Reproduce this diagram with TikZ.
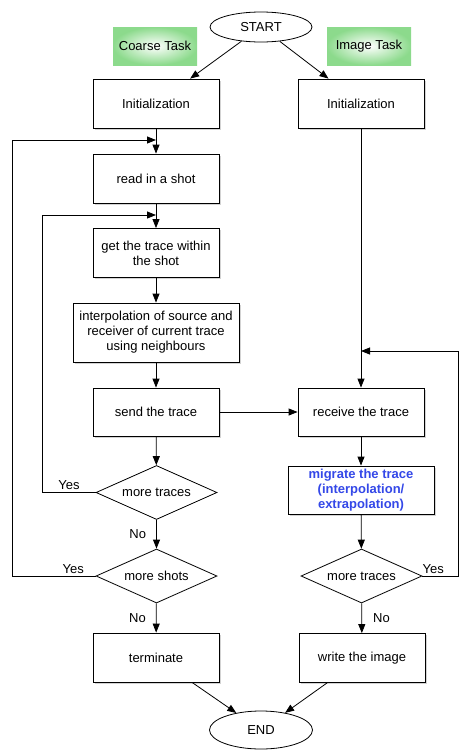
\documentclass[tikz,border=0pt]{standalone}
\usepackage{fontspec}
\setmainfont{Liberation Sans}
\usepackage{xcolor}
\usetikzlibrary{
    arrows.meta,
    shapes,
    shadows,
    calc,
    positioning
}
\definecolor{taskgreen}{RGB}{140,218,140}
\definecolor{migblue}{RGB}{52,72,232}
\tikzset{
    every node/.style={font=\fontsize{13}{15}\selectfont},
    process/.style={draw, thick, rectangle, fill=white, align=center,
        minimum width=126pt, minimum height=49pt, inner sep=2pt,
        drop shadow={opacity=0.35, shadow xshift=1.5pt, shadow yshift=-1.5pt}},
    decision/.style={draw, thick, diamond, fill=white, inner sep=0pt,
        minimum width=121pt, minimum height=54pt, aspect=2.2},
    terminal/.style={draw, thick, ellipse, fill=white, inner sep=0pt},
    tasklabel/.style={rectangle, inner color=white, outer color=taskgreen,
        minimum width=84pt, minimum height=38pt},
    flow/.style={thick, -{Triangle[length=9pt, width=7pt]}},
    answer/.style={inner sep=2pt}
}
\begin{document}
\begin{tikzpicture}[x=1pt, y=-1pt]
    \useasboundingbox (0, 0) rectangle (474, 753);

    % task headers
    \node[tasklabel] (coarse) at (155, 46) {Coarse Task};
    \node[tasklabel] (image) at (369, 46) {Image Task};

    % start and end
    \node[terminal, minimum width=102pt, minimum height=30pt] (start) at (261, 27) {START};
    \node[terminal, minimum width=103pt, minimum height=38pt] (end) at (261, 730) {END};

    % coarse task column
    \node[process] (init1) at (156, 103.5) {Initialization};
    \node[process] (read) at (156, 178.5) {read in a shot};
    \node[process] (get) at (156, 253) {get the trace within\\the shot};
    \node[process, minimum width=166pt, minimum height=59pt] (interp) at (156, 332.5)
        {interpolation of source and\\receiver of current trace\\using neighbours};
    \node[process, minimum height=48pt] (send) at (156, 412) {send the trace};
    \node[decision] (moretr) at (156.5, 492.5) {more traces};
    \node[decision] (moreshot) at (156.5, 576) {more shots};
    \node[process] (term) at (156, 657.5) {terminate};

    % image task column
    \node[process] (init2) at (361, 103.5) {Initialization};
    \node[process, minimum height=48pt] (recv) at (361, 412) {receive the trace};
    \node[process, minimum width=146pt, minimum height=48pt, text=migblue,
        font=\fontsize{13}{15}\selectfont\bfseries] (migrate) at (361, 490)
        {migrate the trace\\(interpolation/\\extrapolation)};
    \node[decision] (moretrr) at (361.5, 576) {more traces};
    \node[process] (write) at (362, 658) {write the image};

    % join points of the loops
    \coordinate (jshot) at (156, 140);
    \coordinate (jtrace) at (156, 215);
    \coordinate (jrecv) at (361, 351);

    % main flow
    \draw[flow] (start) -- (init1);
    \draw[flow] (start) -- (init2);
    \draw[flow] (init1) -- (read);
    \draw[flow] (read) -- (get);
    \draw[flow] (get) -- (interp);
    \draw[flow] (interp) -- (send);
    \draw[flow] (send) -- (moretr);
    \draw[flow] (moretr) -- node[answer, left, xshift=-8pt] {No} (moreshot);
    \draw[flow] (moreshot) -- node[answer, left, xshift=-8pt] {No} (term);
    \draw[flow] (term) -- (end);
    \draw[flow] (send) -- (recv);
    \draw[flow] (init2) -- (recv);
    \draw[flow] (recv) -- (migrate);
    \draw[flow] (migrate) -- (moretrr);
    \draw[flow] (moretrr) -- node[answer, right, xshift=9pt] {No} (write);
    \draw[flow] (write) -- (end);

    % loops back
    \draw[flow] (moretr.west) -- node[answer, above, pos=0.5] {Yes} ++(-53, 0) |- (jtrace);
    \draw[flow] (moreshot.west) -- node[answer, above, pos=0.27] {Yes} ++(-83, 0) |- (jshot);
    \draw[flow] (moretrr.east) -- node[answer, above, pos=0.3] {Yes} ++(36, 0) |- (jrecv);
\end{tikzpicture}
\end{document}
